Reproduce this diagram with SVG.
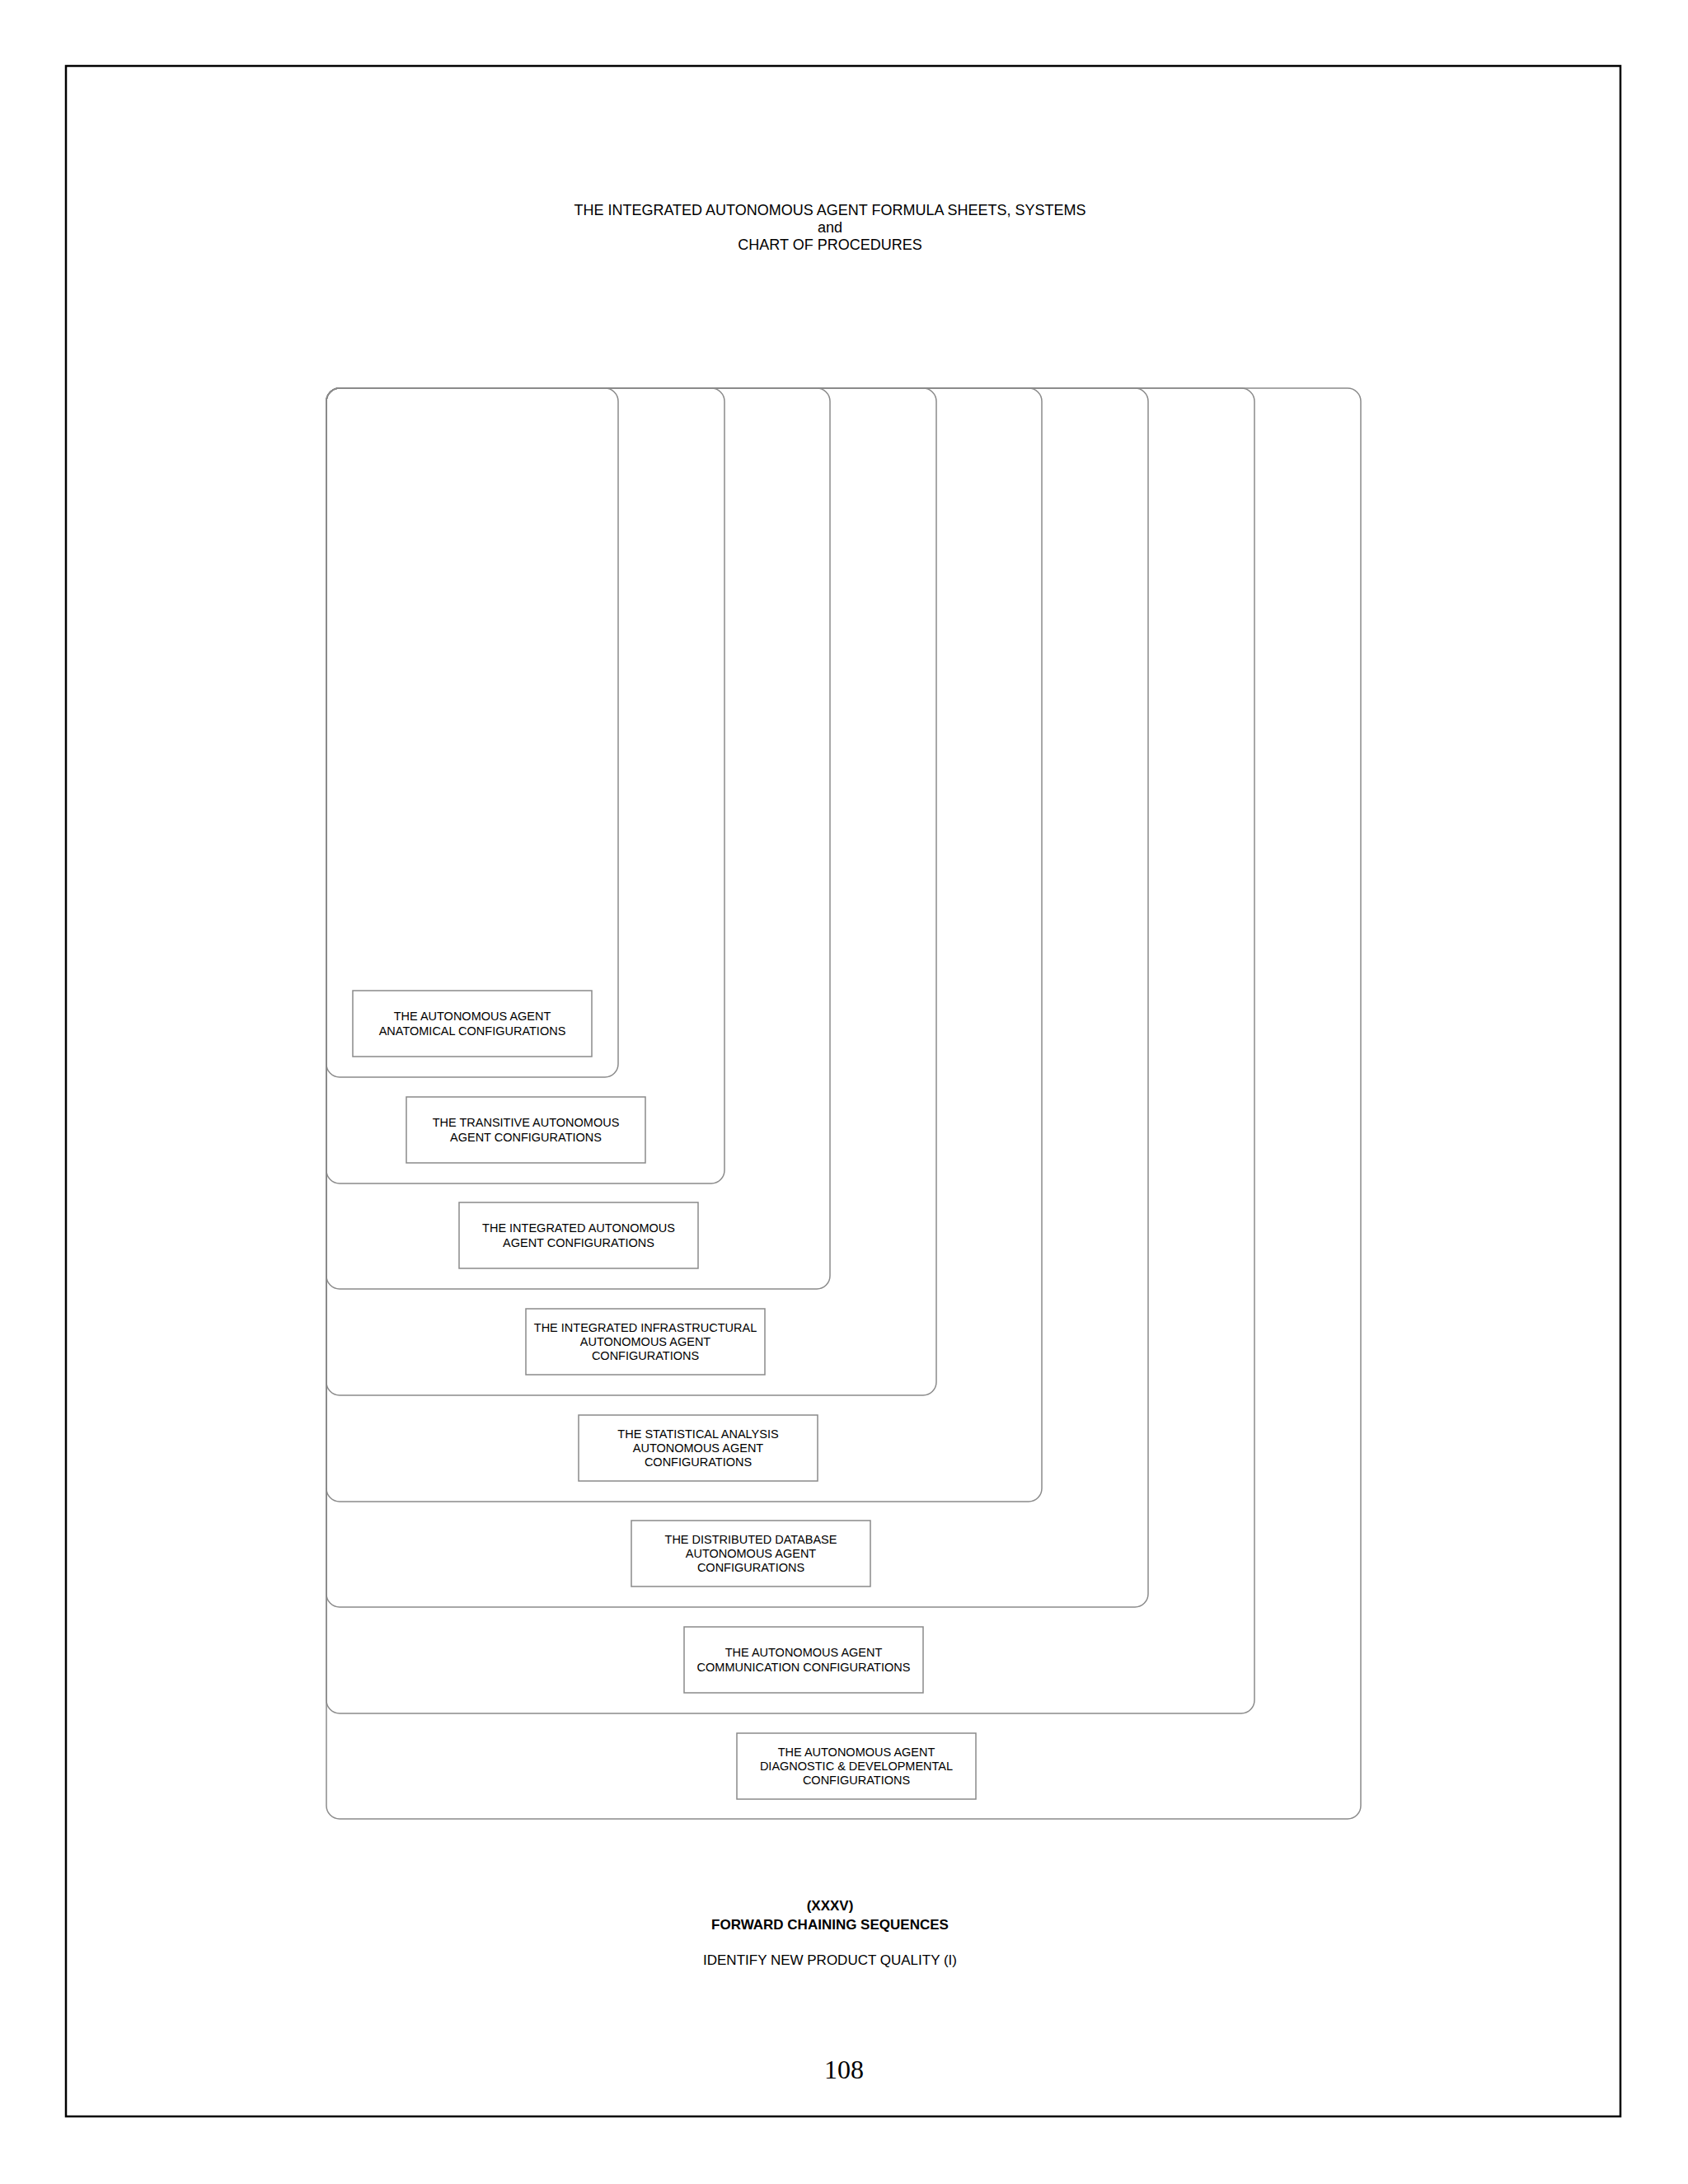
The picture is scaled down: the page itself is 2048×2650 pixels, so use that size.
<svg xmlns="http://www.w3.org/2000/svg" width="2048" height="2650" viewBox="0 0 2048 2650">
<style>
.t{font-family:"Liberation Sans",Arial,sans-serif;fill:#000;text-anchor:middle}
.c{fill:none;stroke:#8a8a8a;stroke-width:1.5}
.b{fill:#fff;stroke:#8a8a8a;stroke-width:1.5}
.l{font-size:14.5px}
</style>
<rect width="2048" height="2650" fill="#fff"/>
<rect x="80" y="80" width="1886" height="2488" fill="none" stroke="#000" stroke-width="2.5"/>
<g id="title" class="t" font-size="18">
<text x="1007" y="261">THE INTEGRATED AUTONOMOUS AGENT FORMULA SHEETS, SYSTEMS</text>
<text x="1007" y="282">and</text>
<text x="1007" y="303">CHART OF PROCEDURES</text>
</g>
<g id="containers">
<rect class="c" x="396" y="471" width="1255" height="1736" rx="16"/>
<rect class="c" x="396" y="471" width="1126" height="1608" rx="16"/>
<rect class="c" x="396" y="471" width="997" height="1479" rx="16"/>
<rect class="c" x="396" y="471" width="868" height="1351" rx="16"/>
<rect class="c" x="396" y="471" width="740" height="1222" rx="16"/>
<rect class="c" x="396" y="471" width="611" height="1093" rx="16"/>
<rect class="c" x="396" y="471" width="483" height="965" rx="16"/>
<rect class="c" x="396" y="471" width="354" height="836" rx="16"/>
</g>
<g id="n1"><rect class="b" x="428" y="1202" width="290" height="80"/><text class="t l" x="573" y="1238">THE AUTONOMOUS AGENT</text><text class="t l" x="573" y="1256">ANATOMICAL CONFIGURATIONS</text></g>
<g id="n2"><rect class="b" x="493" y="1331" width="290" height="80"/><text class="t l" x="638" y="1367">THE TRANSITIVE AUTONOMOUS</text><text class="t l" x="638" y="1385">AGENT CONFIGURATIONS</text></g>
<g id="n3"><rect class="b" x="557" y="1459" width="290" height="80"/><text class="t l" x="702" y="1495">THE INTEGRATED AUTONOMOUS</text><text class="t l" x="702" y="1513">AGENT CONFIGURATIONS</text></g>
<g id="n4"><rect class="b" x="638" y="1588" width="290" height="80"/><text class="t l" x="783" y="1616">THE INTEGRATED INFRASTRUCTURAL</text><text class="t l" x="783" y="1633">AUTONOMOUS AGENT</text><text class="t l" x="783" y="1650">CONFIGURATIONS</text></g>
<g id="n5"><rect class="b" x="702" y="1717" width="290" height="80"/><text class="t l" x="847" y="1745">THE STATISTICAL ANALYSIS</text><text class="t l" x="847" y="1762">AUTONOMOUS AGENT</text><text class="t l" x="847" y="1779">CONFIGURATIONS</text></g>
<g id="n6"><rect class="b" x="766" y="1845" width="290" height="80"/><text class="t l" x="911" y="1873">THE DISTRIBUTED DATABASE</text><text class="t l" x="911" y="1890">AUTONOMOUS AGENT</text><text class="t l" x="911" y="1907">CONFIGURATIONS</text></g>
<g id="n7"><rect class="b" x="830" y="1974" width="290" height="80"/><text class="t l" x="975" y="2010">THE AUTONOMOUS AGENT</text><text class="t l" x="975" y="2028">COMMUNICATION CONFIGURATIONS</text></g>
<g id="n8"><rect class="b" x="894" y="2103" width="290" height="80"/><text class="t l" x="1039" y="2131">THE AUTONOMOUS AGENT</text><text class="t l" x="1039" y="2148">DIAGNOSTIC &amp; DEVELOPMENTAL</text><text class="t l" x="1039" y="2165">CONFIGURATIONS</text></g>
<g id="connectors"></g>
<g id="footer">
<text class="t" x="1007" y="2318" font-size="17" font-weight="bold">(XXXV)</text>
<text class="t" x="1007" y="2341" font-size="17" font-weight="bold">FORWARD CHAINING SEQUENCES</text>
<text class="t" x="1007" y="2384" font-size="17">IDENTIFY NEW PRODUCT QUALITY (I)</text>
<text x="1024" y="2522" font-size="32" font-family="'Liberation Serif','Times New Roman',serif" text-anchor="middle">108</text>
</g>
</svg>
